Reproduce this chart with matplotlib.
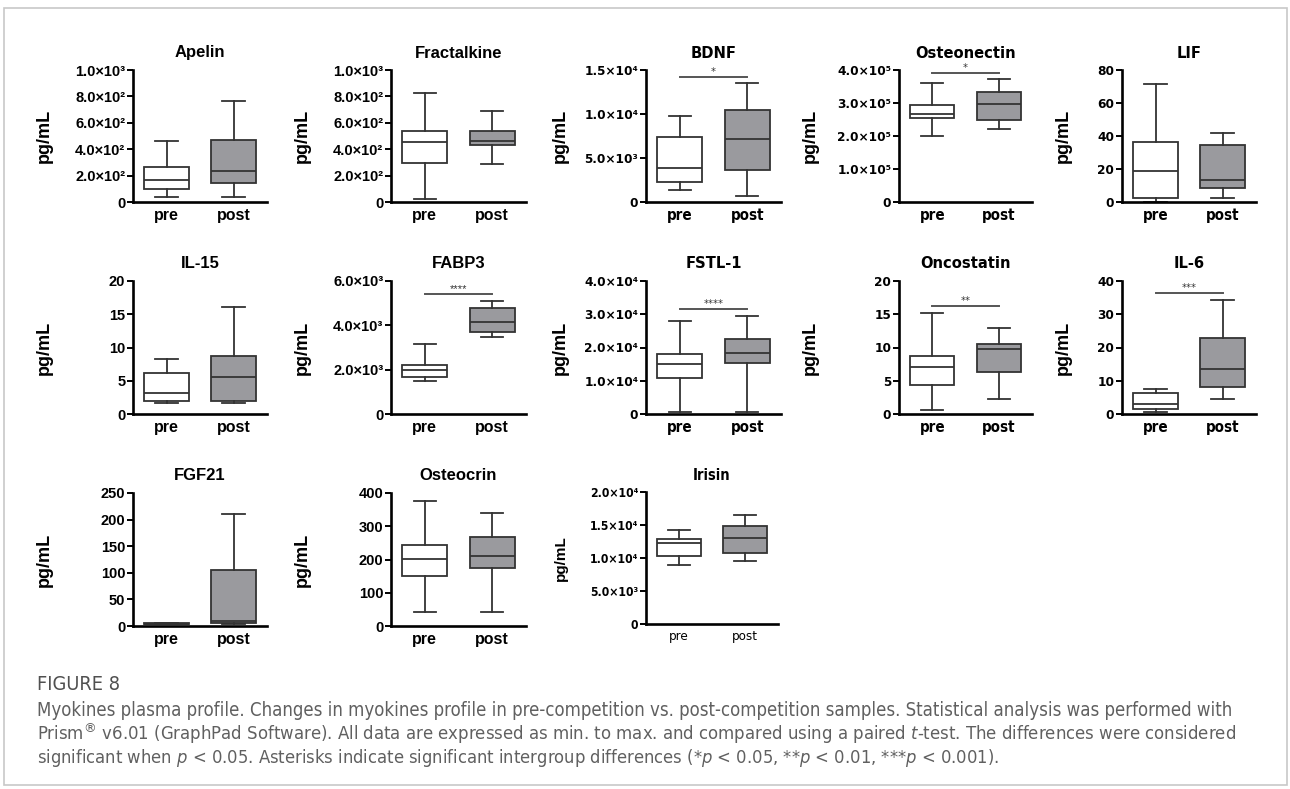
import matplotlib
matplotlib.use('Agg')
import matplotlib.pyplot as plt
from matplotlib import font_manager
from matplotlib.font_manager import FontProperties
from matplotlib.patches import Rectangle

WIDE = 'Liberation Sans'
plt.rcParams['font.family'] = [WIDE, 'DejaVu Sans']


def find_condensed(bold, italic=False):
    # look for a narrow / condensed face among the installed fonts
    best = None
    for f in font_manager.fontManager.ttflist:
        fn = f.fname.lower()
        if 'narrow' not in fn and 'condensed' not in fn:
            continue
        if (('oblique' in fn or 'italic' in fn) != italic) or (('bold' in fn) != bold):
            continue
        rank = 0 if 'liberation' in fn else (1 if 'dejavusans' in fn.replace('-', '') else 2)
        if 'mono' in fn or 'serif' in fn:
            rank += 5
        if best is None or rank < best[0]:
            best = (rank, f.fname)
    return best[1] if best else None


nb = find_condensed(True)
nr = find_condensed(False)
ni = find_condensed(False, italic=True)

plt.rcParams['mathtext.fontset'] = 'custom'
it_pattern = 'DejaVu Sans:italic'
if ni:
    cand = FontProperties(fname=ni).get_name() + ':italic:stretch=condensed'
    try:
        font_manager.findfont(FontProperties(cand))
        it_pattern = cand
    except Exception:
        pass
plt.rcParams['mathtext.it'] = it_pattern


def narrow_fp(size, bold=True):
    path = nb if bold else nr
    if path:
        return FontProperties(fname=path, size=size)
    return FontProperties(family=[WIDE, 'DejaVu Sans'], size=size, weight='bold' if bold else 'normal')


def wide_fp(size, bold=True):
    return FontProperties(family=[WIDE, 'DejaVu Sans'], size=size, weight='bold' if bold else 'normal')


# ---- data (five-number summaries: min, q1, median, q3, max)
markers = ['Apelin', 'Fractalkine', 'BDNF', 'Osteonectin', 'LIF',
           'IL-15', 'FABP3', 'FSTL-1', 'Oncostatin', 'IL-6',
           'FGF21', 'Osteocrin', 'Irisin']
groups = ['pre', 'post']

pre_stats = [
    [38, 97, 165, 262, 460],
    [20, 294, 452, 540, 827],
    [1400, 2270, 3850, 7370, 9820],
    [201500, 254000, 267000, 293000, 359700],
    [0.2, 2.6, 18.8, 36.6, 71.5],
    [1.6, 2.0, 3.2, 6.2, 8.3],
    [1470, 1650, 1980, 2190, 3140],
    [500, 10930, 15140, 17950, 27970],
    [0.55, 4.4, 7.1, 8.7, 15.2],
    [0.6, 1.5, 3.0, 6.2, 7.5],
    [3.5, 4.0, 4.5, 5.0, 5.5],
    [43, 151, 203, 243, 375],
    [9000, 10300, 12210, 12910, 14270],
]
post_stats = [
    [38, 142, 237, 466, 766],
    [286, 432, 462, 538, 686],
    [640, 3630, 7180, 10430, 13490],
    [221700, 247000, 297000, 332500, 372800],
    [2.6, 8.5, 13.6, 34.8, 42.1],
    [1.6, 2.0, 5.5, 8.7, 16.1],
    [3460, 3700, 4140, 4760, 5120],
    [500, 15440, 18250, 22560, 29570],
    [2.2, 6.3, 9.7, 10.5, 12.9],
    [4.4, 8.0, 13.4, 22.9, 34.2],
    [3.2, 5.0, 9.5, 104.4, 210],
    [43, 173, 212, 269, 339],
    [9500, 10800, 12970, 14870, 16530],
]
y_top = [1000, 1000, 15000, 400000, 80, 20, 6000, 40000, 20, 40, 250, 400, 20000]
y_step = [200, 200, 5000, 100000, 20, 5, 2000, 10000, 5, 10, 50, 100, 5000]
sci_ticks = [True, True, True, True, False, False, True, True, False, False, False, False, True]
sig_text = ['', '', '*', '*', '', '', '****', '****', '**', '***', '', '', '']
sig_y = [None, None, 14200, 392000, None, None, 5420, 31600, 16.2, 36.3, None, None, None]

caption_title = 'FIGURE 8'
caption_lines = [
    'Myokines plasma profile. Changes in myokines profile in pre-competition vs. post-competition samples. '
    'Statistical analysis was performed with',
    'Prism$^{®}$ v6.01 (GraphPad Software). All data are expressed as min. to max. and compared using a paired '
    '$t$-test. The differences were considered',
    'significant when $p$ < 0.05. Asterisks indicate significant intergroup differences '
    '(*$p$ < 0.05, **$p$ < 0.01, ***$p$ < 0.001).',
]

# ---- layout in pixels
W, H = 1290, 789
col_x = [(133, 267), (391, 526), (646, 781), (899, 1032), (1122, 1256)]
row_y = [(70, 202), (281, 414), (493, 626)]
ylab_off = [80, 80, 77, 80, 50]

SUP = str.maketrans('0123456789', '⁰¹²³⁴⁵⁶⁷⁸⁹')


def sci_label(v):
    if v == 0:
        return '0'
    e = len(str(int(v))) - 1
    return f'{v / 10 ** e:.1f}×10' + str(e).translate(SUP)


def num_label(v):
    return str(int(v))


fig = plt.figure(figsize=(W / 100, H / 100), dpi=100)

box_edge = '#333333'
post_fill = '#9a9a9e'

for i, name in enumerate(markers):
    r, c = divmod(i, 5)
    x0, x1 = col_x[c]
    y0, y1 = row_y[r]
    if name == 'Irisin':
        x0, x1, y0, y1 = 646, 778, 492, 624
    ax = fig.add_axes([x0 / W, 1 - y1 / H, (x1 - x0) / W, (y1 - y0) / H])

    narrow = c >= 2
    small = name == 'Irisin'
    mk = narrow_fp if narrow else wide_fp
    if small:
        tick_fp, title_fp, xl_fp = mk(8.7), mk(10.5), mk(9.5, bold=False)
    elif narrow:
        tick_fp, title_fp, xl_fp = mk(9.7), mk(11.8), mk(10.8)
    else:
        tick_fp, title_fp, xl_fp = mk(10.5), mk(12), mk(11.5)

    for pos, st, fc in [(1, pre_stats[i], 'white'), (2, post_stats[i], post_fill)]:
        s = dict(whislo=st[0], q1=st[1], med=st[2], q3=st[3], whishi=st[4], fliers=[])
        ax.bxp([s], positions=[pos], widths=0.66, capwidths=0.33, patch_artist=True,
               showfliers=False,
               boxprops=dict(facecolor=fc, edgecolor=box_edge, linewidth=1.3),
               medianprops=dict(color=box_edge, linewidth=1.3),
               whiskerprops=dict(color=box_edge, linewidth=1.3),
               capprops=dict(color=box_edge, linewidth=1.3))

    if sig_text[i]:
        ax.plot([1, 2], [sig_y[i], sig_y[i]], color='#555555', lw=1.4, clip_on=False)
        ax.text(1.5, sig_y[i], sig_text[i], ha='center', va='bottom', color='#333333',
                fontproperties=mk(8, bold=False))

    ax.set_xlim(0.5, 2.5)
    ax.set_ylim(0, y_top[i])
    ticks = [k * y_step[i] for k in range(int(round(y_top[i] / y_step[i])) + 1)]
    ax.set_yticks(ticks)
    fmt = sci_label if sci_ticks[i] else num_label
    ax.set_yticklabels([fmt(t) for t in ticks], fontproperties=tick_fp)
    ax.set_xticks([1, 2])
    ax.set_xticklabels(groups, fontproperties=xl_fp)
    ax.tick_params(axis='x', length=0, pad=4)
    ax.tick_params(axis='y', length=4, width=1.4, direction='out', pad=1.5)

    for sp in ['top', 'right']:
        ax.spines[sp].set_visible(False)
    for sp in ['left', 'bottom']:
        ax.spines[sp].set_linewidth(1.9)

    ax.set_title(name, fontproperties=title_fp, pad=9)
    ax.set_ylabel('pg/mL', fontproperties=wide_fp(11 if small else 13))
    off = 78 if small else ylab_off[c]
    ax.yaxis.set_label_coords(-off / (x1 - x0), 0.5)

# ---- caption
renderer = fig.canvas.get_renderer()


def fitted_text(x, y, s, target_w, fp, **kw):
    t = fig.text(x / W, 1 - y / H, s, fontproperties=fp, va='center', ha='left', **kw)
    w = t.get_window_extent(renderer).width
    t.set_fontsize(fp.get_size_in_points() * target_w / w)
    return t


fitted_text(37, 685, caption_title, 83, narrow_fp(12, bold=False), color='#505050')
line_y = [711, 734, 758]
line_w = [1195, 1197, 960]
for s, yy, ww in zip(caption_lines, line_y, line_w):
    fitted_text(37, yy, s, ww, narrow_fp(12, bold=False), color='#606060')

fig.add_artist(Rectangle((4 / W, 1 - 785 / H), (1287 - 4) / W, (785 - 8) / H,
                         transform=fig.transFigure, fill=False, ec='#c8c8c8', lw=1.2))

fig.savefig('out.png', dpi=100)
